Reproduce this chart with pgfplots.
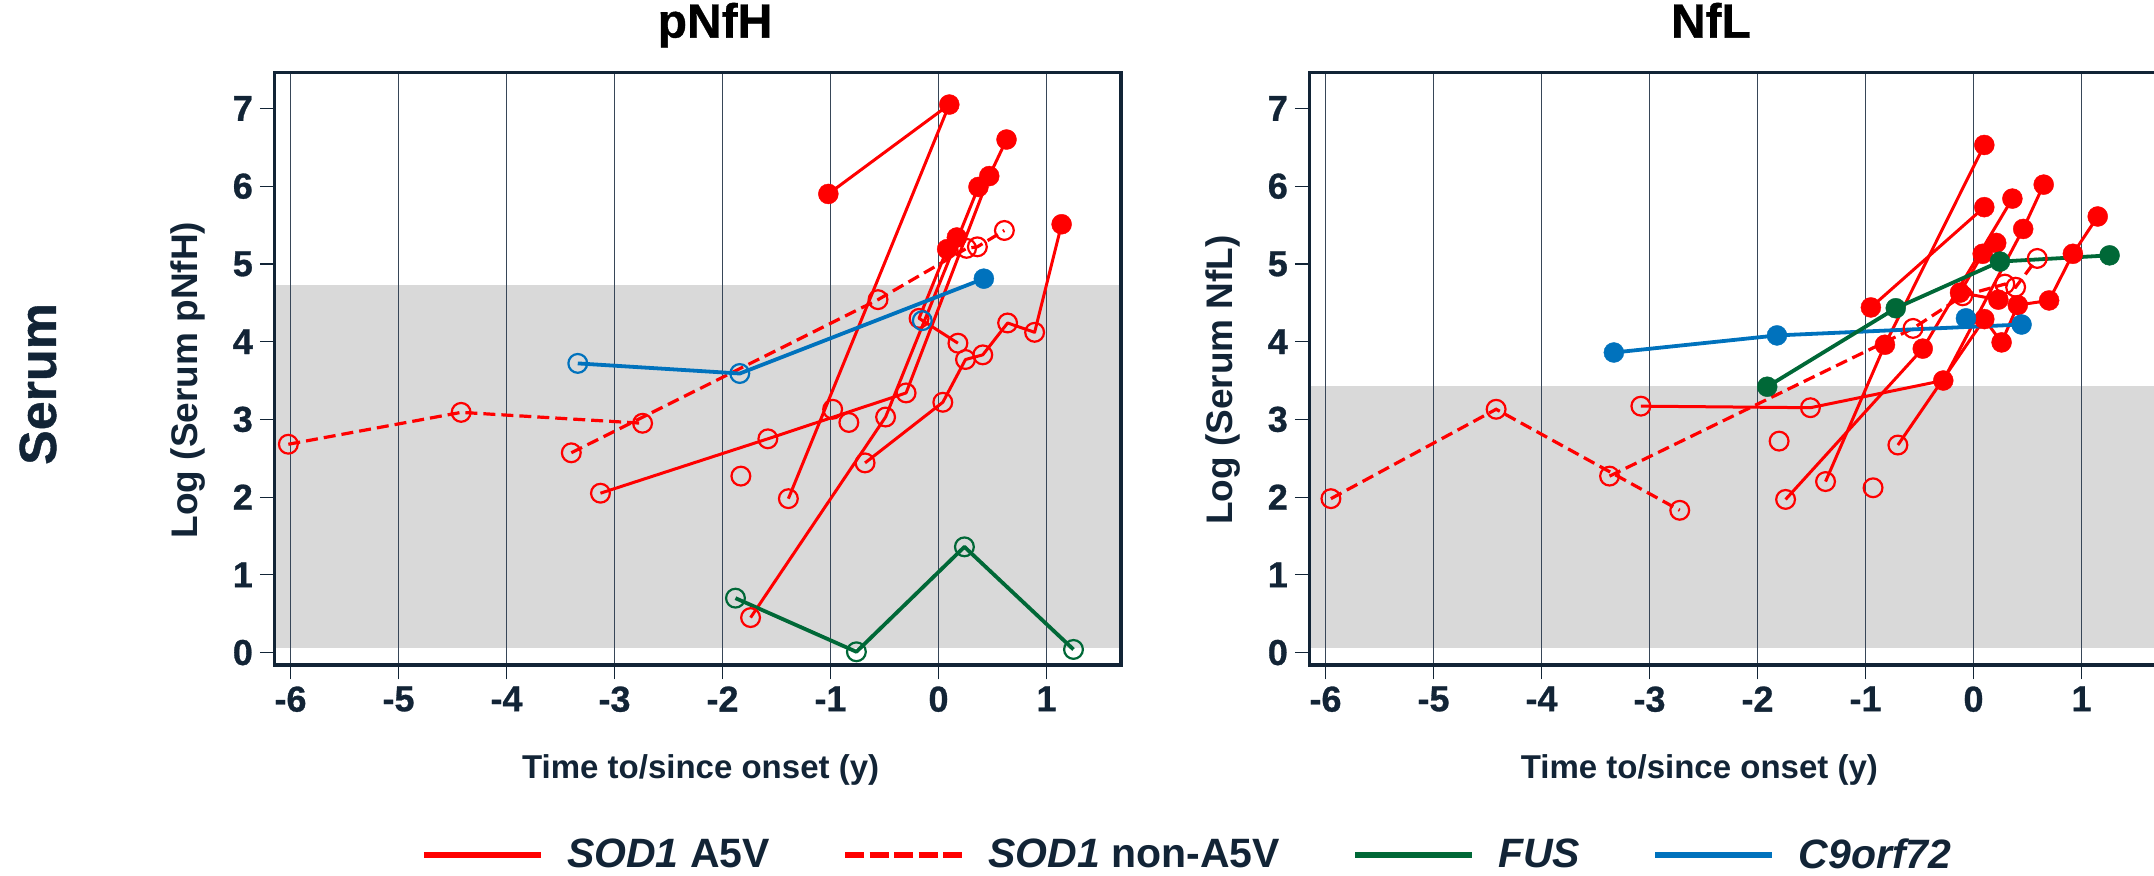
\documentclass[border=0pt]{standalone}
\usepackage{fontspec}
\setmainfont{Liberation Sans}
\newfontfamily\heavyfont{Liberation Sans}[BoldFeatures={FakeBold=0.8}]
\usepackage{pgfplots}
\pgfplotsset{compat=1.18}

\definecolor{cred}{RGB}{255,0,0}
\definecolor{cgreen}{RGB}{0,104,55}
\definecolor{cblue}{RGB}{0,114,189}
\definecolor{cband}{RGB}{217,217,217}
\definecolor{cnavy}{RGB}{18,36,54}
\definecolor{cgrid}{RGB}{55,70,88}

\pgfplotsset{
  panel/.style={
    set layers,
    scale only axis,
    width=423.35pt, height=296.15pt,
    xmin=-6.15, xmax=1.69, ymin=-0.16, ymax=7.46,
    xtick={-6,-5,-4,-3,-2,-1,0,1},
    xticklabels={-6,-5,-4,-3,-2,-1,0,1},
    ytick={0,1,2,3,4,5,6,7},
    yticklabels={0,1,2,3,4,5,6,7},
    tick align=outside,
    tick pos=left,
    major tick length=7.2pt,
    axis line style={cnavy, line width=1.6pt},
    every tick/.style={cnavy, line width=0.6pt},
    tick label style={font=\fontsize{18}{18}\selectfont\heavyfont\bfseries, text=cnavy},
    xlabel style={font=\fontsize{16.5}{16.5}\selectfont\bfseries, text=cnavy},
    ylabel style={font=\fontsize{18.5}{18.5}\selectfont\bfseries, text=cnavy},
    title style={font=\fontsize{24}{24}\selectfont\heavyfont\bfseries, text=black, anchor=base, yshift=0pt},
    xmajorgrids=true,
    grid style={cgrid, line width=0.55pt},
    clip=true,
  },
  redfill/.style={only marks, mark=*, mark size=5pt, mark options={fill=cred, draw=cred, solid, line width=0.2pt}, forget plot},
  redopen/.style={only marks, mark=o, mark size=4.7pt, mark options={draw=cred, solid, line width=1.1pt}, forget plot},
  bluefill/.style={only marks, mark=*, mark size=5pt, mark options={fill=cblue, draw=cblue, solid, line width=0.2pt}, forget plot},
  blueopen/.style={only marks, mark=o, mark size=4.7pt, mark options={draw=cblue, solid, line width=1.1pt}, forget plot},
  greenfill/.style={only marks, mark=*, mark size=5pt, mark options={fill=cgreen, draw=cgreen, solid, line width=0.2pt}, forget plot},
  greenopen/.style={only marks, mark=o, mark size=4.7pt, mark options={draw=cgreen, solid, line width=1.1pt}, forget plot},
  redline/.style={no marks, cred, line width=1.5pt, line join=round, forget plot},
  reddash/.style={no marks, cred, line width=1.6pt, dash pattern=on 6pt off 3pt, forget plot},
  greenline/.style={no marks, cgreen, line width=1.9pt, line join=round, forget plot},
  blueline/.style={no marks, cblue, line width=1.9pt, line join=round, forget plot},
}

\begin{document}
\begin{tikzpicture}
% ---------------- pNfH ----------------
\begin{axis}[panel, at={(137.15pt,105pt)}, anchor=south west,
  title={pNfH}, title style={at={(axis description cs:0.5205,1.039)}},
  ylabel={Log (Serum pNfH)}, ylabel style={at={(axis description cs:-0.1019,0.481)}, anchor=center},
  xlabel={Time to/since onset (y)}, xlabel style={at={(axis description cs:0.5035,-0.178)}, anchor=center},
  legend style={at={(axis description cs:1.0768,-0.3208)}, anchor=center, legend columns=4,
    draw=none, fill=none, font=\fontsize{20.5}{24}\selectfont\bfseries, text=cnavy,
    nodes={inner sep=0pt},
    /tikz/every odd column/.append style={column sep=11.5pt},
    /tikz/every even column/.append style={column sep=36pt}},
  legend cell align=left,
  legend image code/.code={\draw[#1] (0pt,0pt) -- (58.5pt,0pt);},
]
\addlegendimage{cred, line width=3.2pt}
\addlegendentry{\textit{SOD1} A5V}
\addlegendimage{cred, line width=3.2pt, dash pattern=on 9.5pt off 2.75pt}
\addlegendentry{\textit{SOD1} non-A5V}
\addlegendimage{cgreen, line width=3.2pt}
\addlegendentry{\textit{FUS}}
\addlegendimage{cblue, line width=3.2pt}
\addlegendentry{\textit{C9orf72}}

\addplot[on layer=axis background, fill=cband, draw=none, forget plot]
  coordinates {(-6.15,0.06) (1.69,0.06) (1.69,4.73) (-6.15,4.73)} -- cycle;

% SOD1 A5V lines
\addplot[redline] coordinates {(-1.02,5.90) (0.10,7.05)};
\addplot[redline] coordinates {(-1.39,1.98) (0.10,7.05)};
\addplot[redline] coordinates {(-3.13,2.05) (-1.58,2.75) (-0.30,3.34) (0.47,6.13) (0.63,6.60)};
\addplot[redline] coordinates {(-1.74,0.45) (-0.49,3.03) (0.37,5.99)};
\addplot[redline] coordinates {(-0.68,2.44) (0.04,3.22) (0.25,3.77) (0.41,3.83) (0.64,4.24) (0.89,4.12) (1.14,5.51)};
\addplot[redline] coordinates {(0.17,5.34) (0.08,5.19) (-0.18,4.30) (0.18,3.98)};
% SOD1 non-A5V lines
\addplot[reddash] coordinates {(-6.02,2.68) (-4.42,3.09) (-2.74,2.95)};
\addplot[reddash] coordinates {(-3.40,2.57) (-0.56,4.54) (0.26,5.20) (0.36,5.22) (0.61,5.43)};
% C9orf72
\addplot[blueline] coordinates {(-3.34,3.72) (-1.84,3.59) (0.42,4.81)};
% FUS
\addplot[greenline] coordinates {(-1.88,0.70) (-0.76,0.01) (0.24,1.36) (1.25,0.04)};

% markers
\addplot[redopen] coordinates {(-1.39,1.98) (-3.13,2.05) (-1.58,2.75) (-0.30,3.34) (-1.74,0.45) (-0.49,3.03) (-0.68,2.44) (0.04,3.22) (0.25,3.77) (0.41,3.83) (0.64,4.24) (0.89,4.12) (-0.18,4.30) (0.18,3.98) (-0.98,3.13) (-0.83,2.96) (-1.83,2.27)};
\addplot[redopen] coordinates {(-6.02,2.68) (-4.42,3.09) (-2.74,2.95) (-3.40,2.57) (-0.56,4.54) (0.26,5.20) (0.36,5.22) (0.61,5.43)};
\addplot[redfill] coordinates {(-1.02,5.90) (0.10,7.05) (0.63,6.60) (0.47,6.13) (0.37,5.99) (0.17,5.34) (0.08,5.19) (1.14,5.51)};
\addplot[blueopen] coordinates {(-3.34,3.72) (-1.84,3.59) (-0.15,4.27)};
\addplot[bluefill] coordinates {(0.42,4.81)};
\addplot[greenopen] coordinates {(-1.88,0.70) (-0.76,0.01) (0.24,1.36) (1.25,0.04)};
\end{axis}

% ---------------- NfL ----------------
\begin{axis}[panel, at={(654.65pt,105pt)}, anchor=south west,
  title={NfL}, title style={at={(axis description cs:0.4744,1.039)}},
  ylabel={Log (Serum NfL)}, ylabel style={at={(axis description cs:-0.1019,0.481)}, anchor=center},
  xlabel={Time to/since onset (y)}, xlabel style={at={(axis description cs:0.4607,-0.178)}, anchor=center},
]
\addplot[on layer=axis background, fill=cband, draw=none, forget plot]
  coordinates {(-6.15,0.06) (1.69,0.06) (1.69,3.43) (-6.15,3.43)} -- cycle;

% SOD1 A5V lines
\addplot[redline] coordinates {(-1.37,2.20) (-0.82,3.96) (0.10,6.53)};
\addplot[redline] coordinates {(-0.95,4.44) (0.10,5.73)};
\addplot[redline] coordinates {(-3.08,3.17) (-1.51,3.15) (-0.28,3.50) (0.46,5.45) (0.65,6.02)};
\addplot[redline] coordinates {(-1.74,1.97) (-0.47,3.91) (0.36,5.84)};
\addplot[redline] coordinates {(-0.70,2.67) (0.10,4.29) (0.26,3.99) (0.41,4.47) (0.70,4.53) (0.92,5.13) (1.15,5.61)};
\addplot[redline] coordinates {(0.21,5.27) (0.085,5.13) (-0.125,4.63) (0.23,4.54)};
% SOD1 non-A5V lines
\addplot[reddash] coordinates {(-5.95,1.98) (-4.42,3.13) (-2.72,1.83)};
\addplot[reddash] coordinates {(-3.37,2.27) (-0.56,4.17) (-0.10,4.59) (0.29,4.74) (0.39,4.70) (0.59,5.07)};
% C9orf72
\addplot[blueline] coordinates {(-3.33,3.86) (-1.82,4.08) (0.445,4.22)};
% FUS
\addplot[greenline] coordinates {(-1.91,3.42) (-0.72,4.43) (0.245,5.03) (1.26,5.11)};

% markers
\addplot[redopen] coordinates {(-3.08,3.17) (-1.51,3.15) (-1.80,2.72) (-0.70,2.67) (-1.37,2.20) (-1.74,1.97) (-0.93,2.12)};
\addplot[redopen] coordinates {(-5.95,1.98) (-4.42,3.13) (-2.72,1.83) (-3.37,2.27) (-0.56,4.17) (-0.10,4.59) (0.29,4.74) (0.39,4.70) (0.59,5.07)};
\addplot[redfill] coordinates {(0.10,6.53) (0.10,5.73) (0.65,6.02) (0.36,5.84) (1.15,5.61) (0.46,5.45) (0.21,5.27) (0.085,5.13) (0.92,5.13) (0.70,4.53) (0.23,4.54) (0.41,4.47) (-0.125,4.63) (0.10,4.29) (0.26,3.99) (-0.95,4.44) (-0.82,3.96) (-0.47,3.91) (-0.28,3.50)};
\addplot[greenfill] coordinates {(-1.91,3.42) (-0.72,4.43) (0.245,5.03) (1.26,5.11)};
\addplot[bluefill] coordinates {(-3.33,3.86) (-1.82,4.08) (0.445,4.22) (-0.07,4.30)};
\end{axis}

\node[rotate=90, font=\fontsize{26}{26}\selectfont\heavyfont\bfseries, text=cnavy] at (19pt,245.5pt) {Serum};

\pgfresetboundingbox
\path[use as bounding box] (0,0) rectangle (1077pt,437.5pt);
\end{tikzpicture}
\end{document}
